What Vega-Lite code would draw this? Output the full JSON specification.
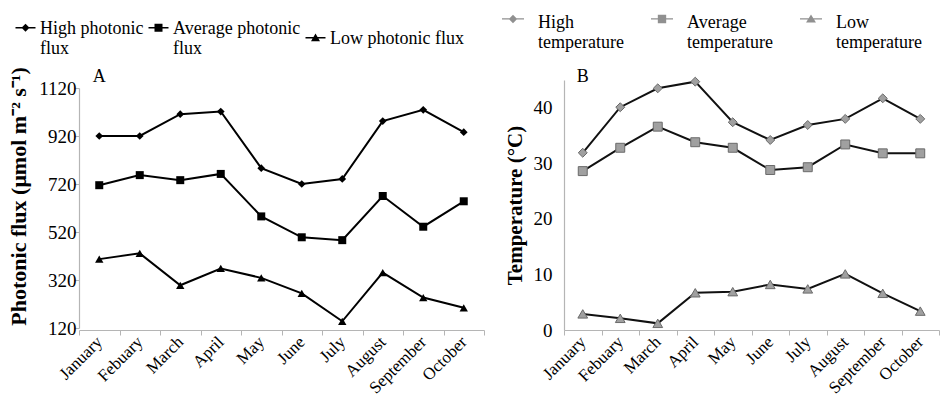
{
  "$schema": "https://vega.github.io/schema/vega-lite/v6.json",
  "padding": {"left": 7, "top": 2, "right": 0, "bottom": 0},
  "background": "white",
  "datasets": {
    "flux": [
      {"month": "January", "level": "High", "value": 920},
      {"month": "Febuary", "level": "High", "value": 920},
      {"month": "March", "level": "High", "value": 1011},
      {"month": "April", "level": "High", "value": 1022},
      {"month": "May", "level": "High", "value": 786},
      {"month": "June", "level": "High", "value": 720},
      {"month": "July", "level": "High", "value": 741},
      {"month": "August", "level": "High", "value": 982},
      {"month": "September", "level": "High", "value": 1029},
      {"month": "October", "level": "High", "value": 936},
      {"month": "January", "level": "Average", "value": 715},
      {"month": "Febuary", "level": "Average", "value": 757},
      {"month": "March", "level": "Average", "value": 736},
      {"month": "April", "level": "Average", "value": 762},
      {"month": "May", "level": "Average", "value": 585},
      {"month": "June", "level": "Average", "value": 498},
      {"month": "July", "level": "Average", "value": 486},
      {"month": "August", "level": "Average", "value": 670},
      {"month": "September", "level": "Average", "value": 542},
      {"month": "October", "level": "Average", "value": 648},
      {"month": "January", "level": "Low", "value": 407},
      {"month": "Febuary", "level": "Low", "value": 431},
      {"month": "March", "level": "Low", "value": 298},
      {"month": "April", "level": "Low", "value": 368},
      {"month": "May", "level": "Low", "value": 329},
      {"month": "June", "level": "Low", "value": 264},
      {"month": "July", "level": "Low", "value": 148},
      {"month": "August", "level": "Low", "value": 351},
      {"month": "September", "level": "Low", "value": 247},
      {"month": "October", "level": "Low", "value": 204}
    ],
    "temp": [
      {"month": "January", "level": "High", "value": 31.9},
      {"month": "Febuary", "level": "High", "value": 40.1},
      {"month": "March", "level": "High", "value": 43.5},
      {"month": "April", "level": "High", "value": 44.7},
      {"month": "May", "level": "High", "value": 37.4},
      {"month": "June", "level": "High", "value": 34.2},
      {"month": "July", "level": "High", "value": 36.9},
      {"month": "August", "level": "High", "value": 38.0},
      {"month": "September", "level": "High", "value": 41.7},
      {"month": "October", "level": "High", "value": 38.0},
      {"month": "January", "level": "Average", "value": 28.6},
      {"month": "Febuary", "level": "Average", "value": 32.8},
      {"month": "March", "level": "Average", "value": 36.6},
      {"month": "April", "level": "Average", "value": 33.8},
      {"month": "May", "level": "Average", "value": 32.8},
      {"month": "June", "level": "Average", "value": 28.8},
      {"month": "July", "level": "Average", "value": 29.3},
      {"month": "August", "level": "Average", "value": 33.4},
      {"month": "September", "level": "Average", "value": 31.8},
      {"month": "October", "level": "Average", "value": 31.8},
      {"month": "January", "level": "Low", "value": 2.9},
      {"month": "Febuary", "level": "Low", "value": 2.1},
      {"month": "March", "level": "Low", "value": 1.2},
      {"month": "April", "level": "Low", "value": 6.7},
      {"month": "May", "level": "Low", "value": 6.9},
      {"month": "June", "level": "Low", "value": 8.2},
      {"month": "July", "level": "Low", "value": 7.4},
      {"month": "August", "level": "Low", "value": 10.1},
      {"month": "September", "level": "Low", "value": 6.6},
      {"month": "October", "level": "Low", "value": 3.4}
    ]
  },
  "bounds": "flush",
  "spacing": 80,
  "resolve": {"scale": {"shape": "independent"}, "legend": {"shape": "independent"}},
  "hconcat": [
    {
      "width": 405,
      "height": 250,
      "encoding": {
        "x": {
          "field": "month", "type": "ordinal",
          "sort": ["January", "Febuary", "March", "April", "May", "June", "July", "August", "September", "October"],
          "scale": {"paddingInner": 0, "paddingOuter": 0},
          "axis": {"title": null, "labelAngle": -45, "labelAlign": "right", "labelBaseline": "middle", "labelFontSize": 17, "tickBand": "extent", "tickSize": 5, "labelPadding": 4, "labelOffset": 0}
        },
        "y": {
          "field": "value", "type": "quantitative",
          "scale": {"domain": [120, 1120], "range": [248, 8], "nice": false, "zero": false},
          "axis": {"values": [120, 320, 520, 720, 920, 1120], "format": "d", "title": "Photonic flux (μmol m⁻² s⁻¹)", "titleY": 116, "grid": false, "tickSize": 5, "labelPadding": -2, "labelFontSize": 19, "titleFontSize": 22, "titlePadding": 8}
        }
      },
      "layer": [
        {"data": {"name": "flux"}, "mark": {"type": "line", "color": "black", "strokeWidth": 2}, "encoding": {"detail": {"field": "level"}}},
        {"data": {"name": "flux"}, "transform": [{"filter": "datum.level == 'High'"}], "mark": {"type": "point", "shape": "diamond", "filled": true, "opacity": 1, "color": "black", "size": 60}},
        {"data": {"name": "flux"}, "transform": [{"filter": "datum.level == 'Average'"}], "mark": {"type": "point", "shape": "square", "filled": true, "opacity": 1, "color": "black", "size": 64}},
        {"data": {"name": "flux"}, "transform": [{"filter": "datum.level == 'Low'"}], "mark": {"type": "point", "shape": "triangle-up", "filled": true, "opacity": 1, "color": "black", "size": 70}},
        {
          "data": {"name": "flux"},
          "mark": {"type": "point", "filled": true, "opacity": 0, "color": "black"},
          "encoding": {
            "shape": {
              "field": "level", "type": "nominal",
              "scale": {"domain": ["High", "Average", "Low"], "range": ["M-1,0.72H1V0.88H-1ZM0,0.4L0.4,0.8L0,1.2L-0.4,0.8Z", "M-1,0.72H1V0.88H-1ZM-0.4,0.4H0.4V1.2H-0.4Z", "M-1,0.72H1V0.88H-1ZM0,0.38L0.45,1.15H-0.45Z"]},
              "legend": {
                "orient": "none", "direction": "horizontal", "legendX": -64, "legendY": -71,
                "title": null, "symbolSize": 400, "labelOffset": 4, "columnPadding": 2,
                "symbolOpacity": 1, "symbolFillColor": "black", "symbolStrokeColor": "black", "symbolStrokeWidth": 1,
                "labelFontSize": 18, "labelFont": "Liberation Serif", "labelColor": "black", "labelLimit": 0, "labelBaseline": "top",
                "labelExpr": "datum.label == 'High' ? ['High photonic', 'flux'] : datum.label == 'Average' ? ['Average photonic', 'flux'] : 'Low photonic flux'"
              }
            },
            "size": {"value": 60}
          }
        },
        {
          "data": {"values": [{"month": "January", "value": 1145, "label": "A"}]},
          "mark": {"type": "text", "font": "Liberation Serif", "fontSize": 18, "baseline": "alphabetic", "align": "center", "color": "black"},
          "encoding": {"text": {"field": "label"}}
        }
      ]
    },
    {
      "width": 375,
      "height": 250,
      "encoding": {
        "x": {
          "field": "month", "type": "ordinal",
          "sort": ["January", "Febuary", "March", "April", "May", "June", "July", "August", "September", "October"],
          "scale": {"paddingInner": 0, "paddingOuter": 0},
          "axis": {"title": null, "labelAngle": -45, "labelAlign": "right", "labelBaseline": "middle", "labelFontSize": 17, "tickBand": "extent", "tickSize": 5, "labelPadding": 4, "labelOffset": 0}
        },
        "y": {
          "field": "value", "type": "quantitative",
          "scale": {"domain": [0, 45], "nice": false},
          "axis": {"values": [0, 10, 20, 30, 40], "title": "Temperature (°C)", "grid": false, "ticks": false, "labelPadding": 12, "labelFontSize": 19, "titleFontSize": 21, "titlePadding": 8}
        }
      },
      "layer": [
        {"data": {"name": "temp"}, "mark": {"type": "line", "color": "#111111", "strokeWidth": 2}, "encoding": {"detail": {"field": "level"}}},
        {"data": {"name": "temp"}, "transform": [{"filter": "datum.level == 'High'"}], "mark": {"type": "point", "shape": "diamond", "filled": true, "opacity": 1, "fill": "#a0a0a0", "stroke": "#6a6a6a", "strokeWidth": 1, "size": 80}},
        {"data": {"name": "temp"}, "transform": [{"filter": "datum.level == 'Average'"}], "mark": {"type": "point", "shape": "square", "filled": true, "opacity": 1, "fill": "#a0a0a0", "stroke": "#6a6a6a", "strokeWidth": 1, "size": 80}},
        {"data": {"name": "temp"}, "transform": [{"filter": "datum.level == 'Low'"}], "mark": {"type": "point", "shape": "triangle-up", "filled": true, "opacity": 1, "fill": "#a0a0a0", "stroke": "#6a6a6a", "strokeWidth": 1, "size": 95}},
        {
          "data": {"name": "temp"},
          "mark": {"type": "point", "filled": true, "opacity": 0, "color": "#909090"},
          "encoding": {
            "shape": {
              "field": "level", "type": "nominal",
              "scale": {"domain": ["High", "Average", "Low"], "range": ["M-1,0.39H1V0.51H-1ZM0,0.07L0.38,0.45L0,0.83L-0.38,0.45Z", "M-1,0.39H1V0.51H-1ZM-0.38,0.07H0.38V0.83H-0.38Z", "M-1,0.39H1V0.51H-1ZM0,0.05L0.45,0.78H-0.45Z"]},
              "legend": {
                "orient": "none", "direction": "horizontal", "legendX": -63, "legendY": -78,
                "title": null, "symbolSize": 484, "labelOffset": 13, "columnPadding": 24,
                "symbolOpacity": 1, "symbolFillColor": "#909090",
                "labelFontSize": 18, "labelFont": "Liberation Serif", "labelColor": "black", "labelLimit": 0, "labelBaseline": "top",
                "labelExpr": "[datum.label, 'temperature']"
              }
            },
            "size": {"value": 80}
          }
        },
        {
          "data": {"values": [{"month": "January", "value": 44.6, "label": "B"}]},
          "mark": {"type": "text", "font": "Liberation Serif", "fontSize": 18, "baseline": "alphabetic", "align": "center", "color": "black"},
          "encoding": {"text": {"field": "label"}}
        }
      ]
    }
  ],
  "config": {
    "font": "Liberation Serif",
    "view": {"stroke": null},
    "axis": {
      "labelFont": "Liberation Serif", "titleFont": "Liberation Serif", "labelColor": "black", "titleColor": "black",
      "domainColor": "#b5b5b5", "tickColor": "#b5b5b5", "domainWidth": 1.2, "titleFontWeight": "bold"
    }
  }
}
